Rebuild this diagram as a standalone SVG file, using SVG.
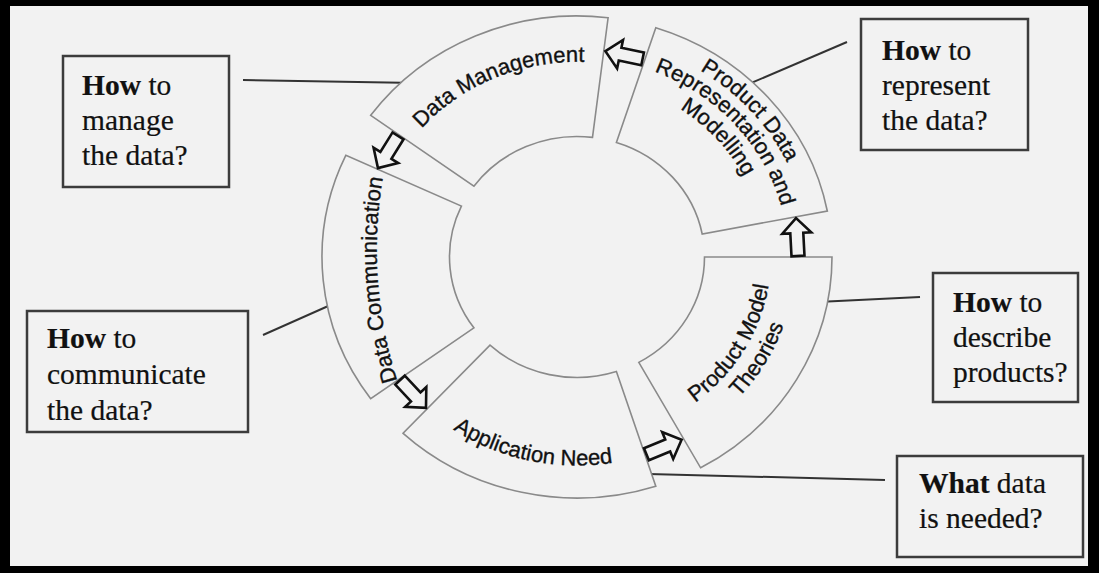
<svg xmlns="http://www.w3.org/2000/svg" width="1099" height="573" viewBox="0 0 1099 573">
<style>
.sec{fill:#f2f2f2;stroke:#8a8a8a;stroke-width:1.6}
.arr{fill:#f2f2f2;stroke:#111;stroke-width:2.6;stroke-linejoin:miter}
.lbl{font-family:"Liberation Sans",Arial,sans-serif;font-size:22px;fill:#111;stroke:#111;stroke-width:0.35}
.box{fill:#f2f2f2;stroke:#3c3c3c;stroke-width:2.5}
.btx{font-family:"Liberation Serif","Times New Roman",serif;font-size:29.5px;fill:#111;stroke:#111;stroke-width:0.2}
.b{font-weight:bold}
.ldr{stroke:#333;stroke-width:2;fill:none}
</style>
<defs>
<path id="arrow" d="M-19,-6.5 L4,-6.5 L4,-14.5 L19,0 L4,14.5 L4,6.5 L-19,6.5 Z"/>
<path id="pDM" d="M409.9,142.3 A206.6,195.2 0 0 1 602.2,63.3"/>
<path id="pAN" d="M426.6,409.5 A220.6,208.5 0 0 0 645.2,455.3"/>
<path id="pDC" d="M401,392 A432,432 0 0 1 385,166"/>
<path id="pPD1" d="M648.9,48 A232.6,219.8 0 0 1 805.3,215.1"/>
<path id="pPD2" d="M642.2,67.3 A211.1,199.5 0 0 1 784.2,218.9"/>
<path id="pPD3" d="M634.9,88.6 A187.4,177.1 0 0 1 761,223.2"/>
<path id="pPM1" d="M671.3,417.6 A193.8,183.2 0 0 0 770.8,257"/>
<path id="pPM2" d="M683.7,439.2 A218,206 0 0 0 795,257"/>
</defs>
<rect x="0" y="0" width="1099" height="573" fill="#000"/>
<rect x="10" y="6" width="1078" height="560" fill="#f2f2f2"/>

<g id="connectors">
<line class="ldr" x1="243" y1="80" x2="417" y2="83"/>
<line class="ldr" x1="847" y1="42" x2="737" y2="89"/>
<line class="ldr" x1="263" y1="335" x2="353" y2="295"/>
<line class="ldr" x1="797" y1="303" x2="920" y2="297"/>
<line class="ldr" x1="610" y1="473" x2="885" y2="480"/>
</g>

<g id="node-pmt">
<path class="sec" d="M832,257 A255,241 0 0 1 700.6,467.8 L638.8,362.4 A127.5,120.5 0 0 0 704.5,257 Z"/>
<text class="lbl"><textPath href="#pPM1" startOffset="50%" text-anchor="middle">Product Model</textPath></text>
<text class="lbl"><textPath href="#pPM2" startOffset="50%" text-anchor="middle">Theories</textPath></text>
</g>
<g id="node-an">
<path class="sec" d="M655.8,486.2 A255,241 0 0 1 403.1,433.3 L490,345.1 A127.5,120.5 0 0 0 616.4,371.6 Z"/>
<text class="lbl"><textPath href="#pAN" startOffset="50%" text-anchor="middle">Application Need</textPath></text>
</g>
<g id="node-dc">
<path class="sec" d="M370.7,398.7 A255,241 0 0 1 345.9,155.2 L461.4,206.1 A127.5,120.5 0 0 0 473.9,327.8 Z"/>
<text class="lbl"><textPath href="#pDC" startOffset="50%" text-anchor="middle">Data Communication</textPath></text>
</g>
<g id="node-dm">
<path class="sec" d="M370.7,115.3 A255,241 0 0 1 608.1,17.8 L592.5,137.4 A127.5,120.5 0 0 0 473.9,186.2 Z"/>
<text class="lbl"><textPath href="#pDM" startOffset="50%" text-anchor="middle">Data Management</textPath></text>
</g>
<g id="node-pdr">
<path class="sec" d="M655.8,27.8 A255,241 0 0 1 827.3,211 L702.2,234 A127.5,120.5 0 0 0 616.4,142.4 Z"/>
<text class="lbl"><textPath href="#pPD1" startOffset="50%" text-anchor="middle">Product Data</textPath></text>
<text class="lbl"><textPath href="#pPD2" startOffset="50%" text-anchor="middle">Representation and</textPath></text>
<text class="lbl"><textPath href="#pPD3" startOffset="50%" text-anchor="middle">Modelling</textPath></text>
</g>

<g id="flow-arrows">
<use href="#arrow" class="arr" transform="translate(797,237) rotate(-93)"/>
<use href="#arrow" class="arr" transform="translate(624,55) rotate(191.8)"/>
<use href="#arrow" class="arr" transform="translate(388,152) rotate(121.9)"/>
<use href="#arrow" class="arr" transform="translate(413,394) rotate(46.9)"/>
<use href="#arrow" class="arr" transform="translate(664,447) rotate(-22.3)"/>
</g>

<g id="box-manage">
<rect class="box" x="63" y="56" width="166" height="131"/>
<text class="btx" x="82" y="95"><tspan class="b">How</tspan> to</text>
<text class="btx" x="82" y="130">manage</text>
<text class="btx" x="82" y="165">the data?</text>
</g>
<g id="box-represent">
<rect class="box" x="861" y="19" width="167" height="131"/>
<text class="btx" x="882" y="60"><tspan class="b">How</tspan> to</text>
<text class="btx" x="882" y="95">represent</text>
<text class="btx" x="882" y="130">the data?</text>
</g>
<g id="box-communicate">
<rect class="box" x="27" y="311" width="221" height="121"/>
<text class="btx" x="47" y="348"><tspan class="b">How</tspan> to</text>
<text class="btx" x="47" y="384">communicate</text>
<text class="btx" x="47" y="420">the data?</text>
</g>
<g id="box-describe">
<rect class="box" x="933" y="273" width="145" height="129"/>
<text class="btx" x="953" y="312"><tspan class="b">How</tspan> to</text>
<text class="btx" x="953" y="347">describe</text>
<text class="btx" x="953" y="382">products?</text>
</g>
<g id="box-needed">
<rect class="box" x="897" y="456" width="186" height="101"/>
<text class="btx" x="919" y="493"><tspan class="b">What</tspan> data</text>
<text class="btx" x="919" y="528">is needed?</text>
</g>
</svg>
